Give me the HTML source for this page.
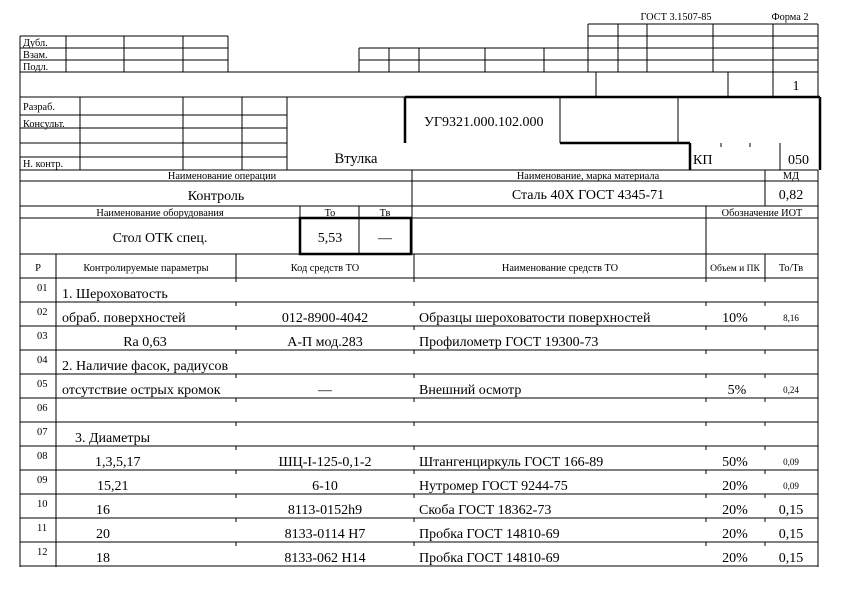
<!DOCTYPE html>
<html><head><meta charset="utf-8"><style>
html,body{margin:0;padding:0;background:#fff;width:842px;height:596px;overflow:hidden}
svg{display:block}
text{font-family:"Liberation Serif","DejaVu Serif",serif;fill:#000}
.s{font-size:10.3px}.m{font-size:14px}.n{font-size:10.5px}.c{text-anchor:middle}
</style></head><body>
<svg width="842" height="596" viewBox="0 0 842 596">
<g stroke="#000" stroke-width="1" fill="none" shape-rendering="crispEdges">
<path d="M588 24H818M588 36H818M359 48H818M359 60H818M20 72H818"/>
<path d="M588 24V72M618 24V72M647 24V72M713 24V72M773 24V72M818 24V72"/>
<path d="M359 48V72M389 48V72M419 48V72M485 48V72M544 48V72"/>
<path d="M20 36H228M20 48H228M20 60H228M20 36V72M66 36V72M124 36V72M183 36V72M228 36V72"/>
<path d="M20 72V567M596 72V97M728 72V97M773 72V97M818 72V97M20 97H405"/>
<path d="M20 115H287M20 128H287M20 143H287M20 157H287M80 97V170M183 97V170M242 97V170M287 97V170"/>
<path d="M560 97V143M678 97V143M780 143V170M721 143V147M750 143V147"/>
<path d="M20 170H818M20 181H818M20 206H818M20 218H818M20 254H818M20 278H818M818 170V567"/>
<path d="M412 170V254M765 170V206M706 206V278M300 206V218M359 206V254"/>
<path d="M56 254V567M236 254V278M414 254V278M706 254V278M765 254V278"/>
<path d="M20 302H818M20 326H818M20 350H818M20 374H818M20 398H818M20 422H818M20 446H818M20 470H818M20 494H818M20 518H818M20 542H818M20 566H818"/>
<path d="M236 278v4M414 278v4M706 278v4M765 278v4M236 302v4M414 302v4M706 302v4M765 302v4M236 326v4M414 326v4M706 326v4M765 326v4M236 350v4M414 350v4M706 350v4M765 350v4M236 374v4M414 374v4M706 374v4M765 374v4M236 398v4M414 398v4M706 398v4M765 398v4M236 422v4M414 422v4M706 422v4M765 422v4M236 446v4M414 446v4M706 446v4M765 446v4M236 470v4M414 470v4M706 470v4M765 470v4M236 494v4M414 494v4M706 494v4M765 494v4M236 518v4M414 518v4M706 518v4M765 518v4M236 542v4M414 542v4M706 542v4M765 542v4"/>
</g>
<g stroke="#000" stroke-width="2.5" fill="none">
<path d="M405 97H820M405 97V143M820 97V170M560 143H690M690 143V170"/>
<rect x="300" y="218" width="111" height="36"/>
</g>
<text class="s c" x="676" y="20">ГОСТ 3.1507-85</text>
<text class="s c" x="790" y="20">Форма 2</text>
<text class="s" x="23" y="46">Дубл.</text>
<text class="s" x="23" y="58">Взам.</text>
<text class="s" x="23" y="70">Подл.</text>
<text class="m c" x="796" y="90">1</text>
<text class="s" x="23" y="110">Разраб.</text>
<text class="s" x="23" y="127">Консульт.</text>
<text class="s" x="23" y="167">Н. контр.</text>
<text class="c" x="356" y="163" style="font-size:14.5px">Втулка</text>
<text class="m" x="424" y="126">УГ9321.000.102.000</text>
<text class="m" x="693" y="164">КП</text>
<text class="m" x="788" y="164">050</text>
<text class="s c" x="222" y="179">Наименование операции</text>
<text class="s c" x="588" y="179">Наименование, марка материала</text>
<text class="s c" x="791" y="179">МД</text>
<text class="c" x="216" y="200" style="font-size:14px">Контроль</text>
<text class="m c" x="588" y="199">Сталь 40Х ГОСТ 4345-71</text>
<text class="m c" x="791" y="199">0,82</text>
<text class="s c" x="160" y="216">Наименование оборудования</text>
<text class="s c" x="330" y="216">То</text>
<text class="s c" x="385" y="216">Тв</text>
<text class="s c" x="762" y="216">Обозначение ИОТ</text>
<text class="m c" x="160" y="242">Стол ОТК спец.</text>
<text class="m c" x="330" y="242">5,53</text>
<text class="m c" x="385" y="242">—</text>
<text class="n c" x="38" y="271">Р</text>
<text class="s c" x="146" y="271">Контролируемые параметры</text>
<text class="s c" x="325" y="271">Код средств ТО</text>
<text class="s c" x="560" y="271">Наименование средств ТО</text>
<text class="c" x="735" y="271" style="font-size:9.5px">Объем и ПК</text>
<text class="s c" x="791" y="271">То/Тв</text>
<g>
<text class="n" x="37" y="291">01</text><text class="n" x="37" y="315">02</text><text class="n" x="37" y="339">03</text><text class="n" x="37" y="363">04</text><text class="n" x="37" y="387">05</text><text class="n" x="37" y="411">06</text><text class="n" x="37" y="435">07</text><text class="n" x="37" y="459">08</text><text class="n" x="37" y="483">09</text><text class="n" x="37" y="507">10</text><text class="n" x="37" y="531">11</text><text class="n" x="37" y="555">12</text>
</g>
<g style="font-size:14px">
<text x="62" y="298">1. Шероховатость</text>
<text x="62" y="322">обраб. поверхностей</text>
<text class="c" x="325" y="322">012-8900-4042</text>
<text x="419" y="322">Образцы шероховатости поверхностей</text>
<text class="c" x="735" y="322">10%</text>
<text class="c" x="145" y="346">Ra 0,63</text>
<text class="c" x="325" y="346">А-П мод.283</text>
<text x="419" y="346">Профилометр ГОСТ 19300-73</text>
<text x="62" y="370">2. Наличие фасок, радиусов</text>
<text x="62" y="394">отсутствие острых кромок</text>
<text class="c" x="325" y="394">—</text>
<text x="419" y="394">Внешний осмотр</text>
<text class="c" x="737" y="394">5%</text>
<text x="75" y="442">3. Диаметры</text>
<text x="95" y="466">1,3,5,17</text>
<text class="c" x="325" y="466">ШЦ-I-125-0,1-2</text>
<text x="419" y="466">Штангенциркуль ГОСТ 166-89</text>
<text class="c" x="735" y="466">50%</text>
<text x="97" y="490">15,21</text>
<text class="c" x="325" y="490">6-10</text>
<text x="419" y="490">Нутромер ГОСТ 9244-75</text>
<text class="c" x="735" y="490">20%</text>
<text x="96" y="514">16</text>
<text class="c" x="325" y="514">8113-0152h9</text>
<text x="419" y="514">Скоба ГОСТ 18362-73</text>
<text class="c" x="735" y="514">20%</text>
<text class="c" x="791" y="514">0,15</text>
<text x="96" y="538">20</text>
<text class="c" x="325" y="538">8133-0114 H7</text>
<text x="419" y="538">Пробка ГОСТ 14810-69</text>
<text class="c" x="735" y="538">20%</text>
<text class="c" x="791" y="538">0,15</text>
<text x="96" y="562">18</text>
<text class="c" x="325" y="562">8133-062 H14</text>
<text x="419" y="562">Пробка ГОСТ 14810-69</text>
<text class="c" x="735" y="562">20%</text>
<text class="c" x="791" y="562">0,15</text>
</g>
<g style="font-size:9px">
<text class="c" x="791" y="321">8,16</text>
<text class="c" x="791" y="393">0,24</text>
<text class="c" x="791" y="465">0,09</text>
<text class="c" x="791" y="489">0,09</text>
</g>
</svg>
</body></html>
